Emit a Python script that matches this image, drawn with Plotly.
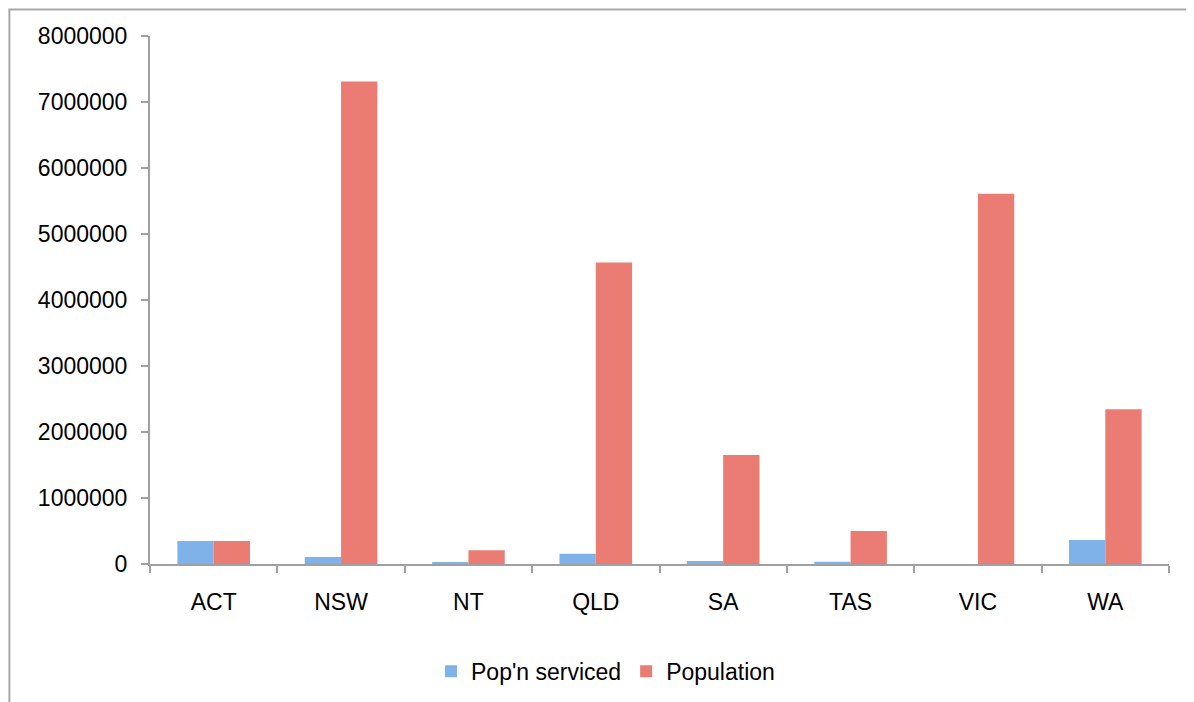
import plotly.graph_objects as go

# states / territories and the two series
states = ["ACT", "NSW", "NT", "QLD", "SA", "TAS", "VIC", "WA"]
pop_serviced = [350000, 105000, 30000, 156000, 45000, 35000, 0, 363000]
population = [350000, 7310000, 210000, 4570000, 1650000, 500000, 5610000, 2345000]

y_ticks = [0, 1000000, 2000000, 3000000, 4000000, 5000000, 6000000, 7000000, 8000000]

FONT = "Liberation Sans, Arial, sans-serif"
AXIS_GREY = "#a0a0a0"

fig = go.Figure()

fig.add_trace(go.Bar(
    x=states, y=pop_serviced, name="Pop'n serviced",
    marker=dict(color="#80b2ea", line=dict(width=0)),
))
fig.add_trace(go.Bar(
    x=states, y=population, name="Population",
    marker=dict(color="#eb7c73", line=dict(width=0)),
))

fig.update_layout(
    width=1194, height=702,
    paper_bgcolor="white", plot_bgcolor="white",
    # page body adds 8px, so margins are trimmed to land the axes where the original has them
    margin=dict(l=142, r=33, t=28, b=146),
    barmode="group", bargap=0.43, bargroupgap=0,
    font=dict(family=FONT, size=23, color="#000000"),
    legend=dict(
        orientation="h", x=0.447, xanchor="center", y=-0.203, yanchor="middle",
        font=dict(size=23), itemwidth=30, traceorder="normal",
    ),
    # outer chart frame (grey border, continues past right / bottom edge)
    shapes=[dict(
        type="rect", xref="paper", yref="paper",
        x0=-0.138, x1=1.06, y0=-0.35, y1=1.05,
        line=dict(color="#a8a8a8", width=2), layer="below",
    )],
)

fig.update_xaxes(
    showline=True, linecolor=AXIS_GREY, linewidth=2,
    ticks="outside", tickson="boundaries", ticklen=7, tickcolor=AXIS_GREY, tickwidth=2,
    showgrid=False, tickfont=dict(size=23), ticklabelstandoff=16,
)
fig.update_yaxes(
    range=[0, 8000000], tickvals=y_ticks, tickformat="d",
    showline=True, linecolor=AXIS_GREY, linewidth=2,
    ticks="outside", ticklen=7, tickcolor=AXIS_GREY, tickwidth=2,
    showgrid=False, zeroline=False, tickfont=dict(size=23), ticklabelstandoff=9,
)

fig.write_html("out.html")
